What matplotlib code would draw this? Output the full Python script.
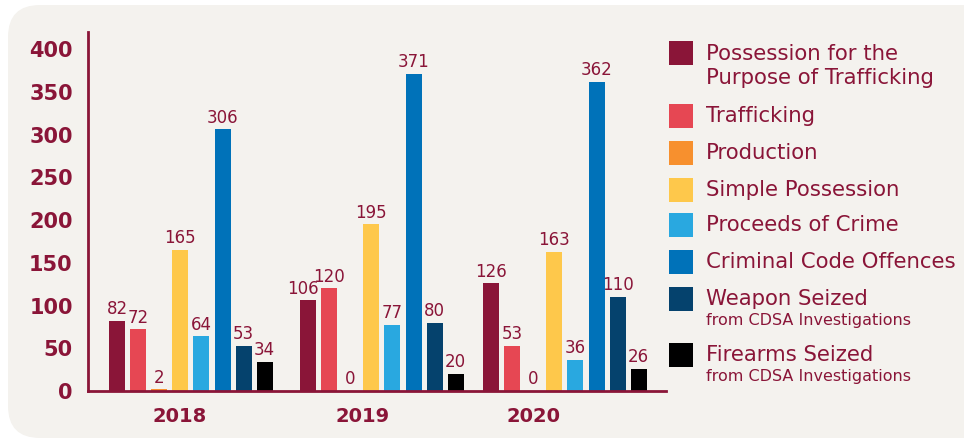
import numpy as np
import matplotlib.pyplot as plt
from matplotlib.patches import FancyBboxPatch, Rectangle

years = ['2018', '2019', '2020']
categories = [
    'Possession for the\nPurpose of Trafficking',
    'Trafficking',
    'Production',
    'Simple Possession',
    'Proceeds of Crime',
    'Criminal Code Offences',
    'Weapon Seized',
    'Firearms Seized',
]
subtitles = ['', '', '', '', '', '', 'from CDSA Investigations', 'from CDSA Investigations']
# one list per year, in category order
counts_2018 = [82, 72, 2, 165, 64, 306, 53, 34]
counts_2019 = [106, 120, 0, 195, 77, 371, 80, 20]
counts_2020 = [126, 53, 0, 163, 36, 362, 110, 26]
counts = [counts_2018, counts_2019, counts_2020]
colors = ['#8a1538', '#e64753', '#f7902e', '#fec84b', '#29a8e0', '#0072b9', '#05426d', '#000000']

text_color = '#8a1538'
font = 'DejaVu Sans'

W, H = 964, 441
fig = plt.figure(figsize=(W / 100, H / 100), dpi=100)
fig.patch.set_facecolor('white')

# full-figure canvas in pixel units for the panel and the legend
bg = fig.add_axes([0, 0, 1, 1], zorder=0)
bg.set_xlim(0, W)
bg.set_ylim(H, 0)
bg.axis('off')
bg.add_patch(FancyBboxPatch((8, 5), W + 40, 433, boxstyle='round,pad=0,rounding_size=32',
                            facecolor='#f4f2ee', edgecolor='none'))

# bar layout in pixels
ax_left, ax_right = 88, 666
group_left = [109, 300, 483]
pitch, bar_w = 21.1, 16
year_label_x = [180, 363, 533]

ax = fig.add_axes([ax_left / W, 50 / H, (ax_right - ax_left) / W, 359 / H], zorder=1)
ax.set_facecolor('none')
ax.set_xlim(ax_left, ax_right)
ax.set_ylim(0, 420)

for g, vals in enumerate(counts):
    xs = group_left[g] + np.arange(len(vals)) * pitch + bar_w / 2
    ax.bar(xs, vals, width=bar_w, color=colors, linewidth=0)
    for i, (x, v) in enumerate(zip(xs, vals)):
        # nudge a label left when the next bar is just a bit taller
        dx = 0
        if i + 1 < len(vals) and 0 < vals[i + 1] - v < 25:
            dx = -4
        ax.annotate(str(v), (x, v), xytext=(dx, 2), textcoords='offset points',
                    ha='center', va='bottom', fontsize=12, color=text_color, family=font)

for s in ['top', 'right']:
    ax.spines[s].set_visible(False)
for s in ['left', 'bottom']:
    ax.spines[s].set_color(text_color)
    ax.spines[s].set_linewidth(2)
ax.set_yticks(range(0, 401, 50))
ax.tick_params(axis='y', length=0, pad=11, labelsize=15, labelcolor=text_color)
for lbl in ax.get_yticklabels():
    lbl.set_fontweight('bold')
    lbl.set_family(font)
ax.set_xticks([])

for x, yr in zip(year_label_x, years):
    bg.text(x, 416, yr, ha='center', va='center', fontsize=14, fontweight='bold',
            color=text_color, family=font)

# legend
row_y = [66, 116, 153, 190, 225, 262, 299, 355]
for i, (name, sub) in enumerate(zip(categories, subtitles)):
    sq_y = 53 if i == 0 else row_y[i]
    bg.add_patch(Rectangle((669, sq_y - 12), 24, 24, facecolor=colors[i], edgecolor='none'))
    bg.text(706, row_y[i], name, ha='left', va='center', fontsize=15.3, color=text_color,
            family=font, linespacing=1.25)
    if sub:
        bg.text(706, row_y[i] + 21, sub, ha='left', va='center', fontsize=11.5,
                color=text_color, family=font)

fig.savefig('out.png', dpi=100)
